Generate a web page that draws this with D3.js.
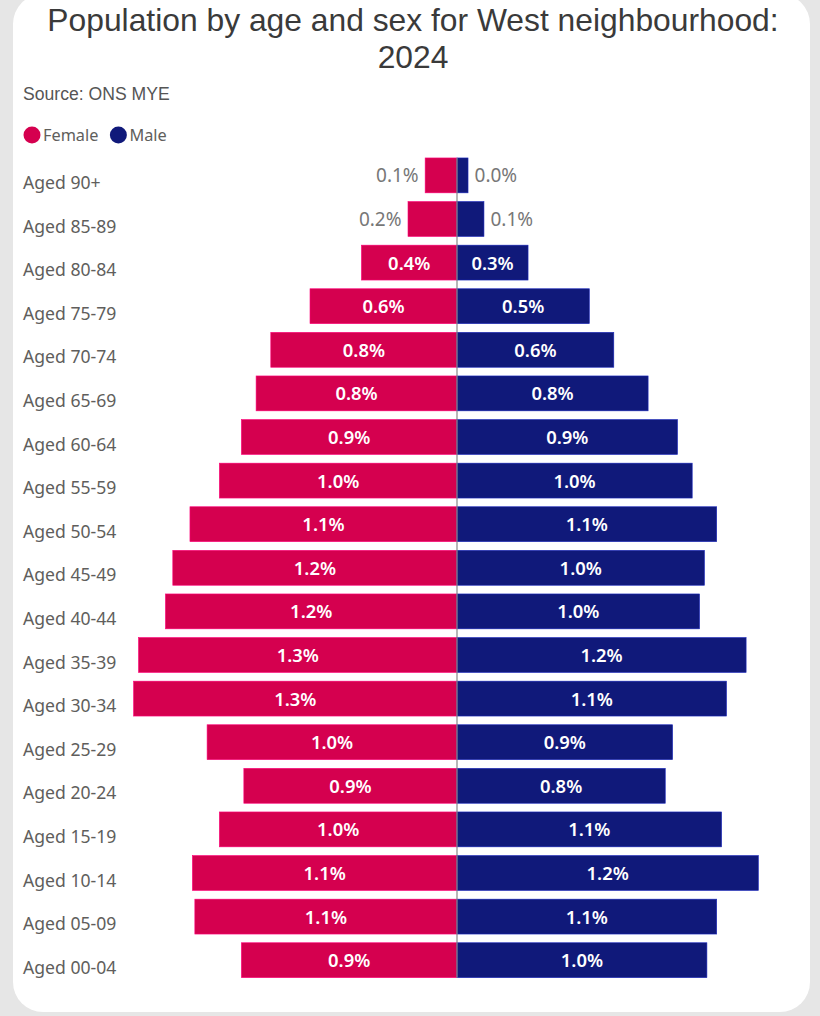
<!DOCTYPE html>
<html>
<head>
<meta charset="utf-8">
<script src="https://cdn.jsdelivr.net/npm/d3@7"></script>
<style>
  body { margin: 0; background: #e6e6e6; }
  svg { display: block; }
</style>
</head>
<body>
<svg></svg>
<script>
const width = 820,
      height = 1016

// age bands, top of the pyramid first
const ages = ["Aged 90+", "Aged 85-89", "Aged 80-84", "Aged 75-79", "Aged 70-74", "Aged 65-69",
  "Aged 60-64", "Aged 55-59", "Aged 50-54", "Aged 45-49", "Aged 40-44", "Aged 35-39",
  "Aged 30-34", "Aged 25-29", "Aged 20-24", "Aged 15-19", "Aged 10-14", "Aged 05-09", "Aged 00-04"]

// % of total population
const female = [0.13, 0.20, 0.39, 0.60, 0.76, 0.82, 0.88, 0.97, 1.09, 1.16, 1.19, 1.30, 1.32, 1.02, 0.87, 0.97, 1.08, 1.07, 0.88]
const male   = [0.045, 0.11, 0.29, 0.54, 0.64, 0.78, 0.90, 0.96, 1.06, 1.01, 0.99, 1.18, 1.10, 0.88, 0.85, 1.08, 1.23, 1.06, 1.02]

const seriesNames = ["Female", "Male"]
const seriesColors = ["#d5004f", "#10197a"]

const svg = d3.select("svg")
  .attr("width", width)
  .attr("height", height)

// card
svg.append("rect")
  .attr("x", 13).attr("y", -6)
  .attr("width", 797).attr("height", 1018)
  .attr("rx", 30)
  .style("fill", "#fff")

const font = "'Noto Sans', sans-serif"
const titleFont = "'Liberation Sans', Arial, sans-serif"

svg.append("text")
  .attr("x", 413).attr("y", 31)
  .attr("text-anchor", "middle")
  .style("font-family", titleFont)
  .style("font-size", "31.8px")
  .style("fill", "#3a3a3a")
  .text("Population by age and sex for West neighbourhood:")

svg.append("text")
  .attr("x", 413).attr("y", 68)
  .attr("text-anchor", "middle")
  .style("font-family", titleFont)
  .style("font-size", "31.8px")
  .style("fill", "#3a3a3a")
  .text("2024")

svg.append("text")
  .attr("x", 23).attr("y", 100)
  .style("font-family", titleFont)
  .style("font-size", "17.6px")
  .style("fill", "#555")
  .text("Source: ONS MYE")

// legend
const legend = svg.append("g")
let lx = 32
seriesNames.forEach((name, i) => {
  legend.append("circle")
    .attr("cx", lx).attr("cy", 135).attr("r", 8.5)
    .style("fill", seriesColors[i])
  const t = legend.append("text")
    .attr("x", lx + 11).attr("y", 141)
    .style("font-family", font)
    .style("font-size", "16.3px")
    .style("fill", "#605e5c")
    .text(name)
  lx += 11 + t.node().getComputedTextLength() + 20
})

const x = d3.scaleLinear()
  .domain([-1.4, 1.4])
  .range([457 - 1.4 * 245, 457 + 1.4 * 245])

const y = d3.scaleBand()
  .domain(ages)
  .range([153.6, 982])
  .paddingInner(0.2)
  .paddingOuter(0.1)

const rows = ages.map((age, i) => ({age: age, female: female[i], male: male[i]}))

// category labels
svg.append("g").selectAll("text")
  .data(ages)
  .join("text")
    .attr("x", 23)
    .attr("y", d => y(d) + y.bandwidth() / 2 + 13.5)
    .style("font-family", font)
    .style("font-size", "17.6px")
    .style("fill", "#605e5c")
    .text(d => d)

const fmt = v => v.toFixed(1) + "%"
const bars = svg.append("g")

seriesNames.forEach((name, i) => {
  const key = name.toLowerCase()
  const sign = key == "female" ? -1 : 1
  const g = bars.append("g")

  g.selectAll("rect")
    .data(rows)
    .join("rect")
      .attr("x", d => Math.min(x(0), x(sign * d[key])))
      .attr("y", d => y(d.age))
      .attr("width", d => Math.abs(x(sign * d[key]) - x(0)))
      .attr("height", y.bandwidth())
      .style("fill", seriesColors[i])
      .style("stroke", d3.color(seriesColors[i]).brighter(1.2))
      .style("stroke-width", 0.6)

  g.selectAll("text")
    .data(rows)
    .join("text")
      .each(function(d) {
        const w = Math.abs(x(sign * d[key]) - x(0))
        const inside = w > 60
        d3.select(this)
          .attr("x", inside ? (x(0) + x(sign * d[key])) / 2 : x(sign * d[key]) + sign * 6.5)
          .attr("text-anchor", inside ? "middle" : (sign < 0 ? "end" : "start"))
          .style("fill", inside ? "#fff" : "#777")
          .style("font-weight", inside ? 600 : 400)
          .style("font-size", inside ? "18.4px" : "19px")
      })
      .attr("y", d => y(d.age) + y.bandwidth() / 2 + 7)
      .style("font-family", font)
      .text(d => fmt(d[key]))
})

// centre line
svg.append("line")
  .attr("x1", x(0)).attr("x2", x(0))
  .attr("y1", y(ages[0]))
  .attr("y2", y(ages[ages.length - 1]) + y.bandwidth())
  .style("stroke", "#888")
  .style("stroke-width", 1.2)
</script>
</body>
</html>
